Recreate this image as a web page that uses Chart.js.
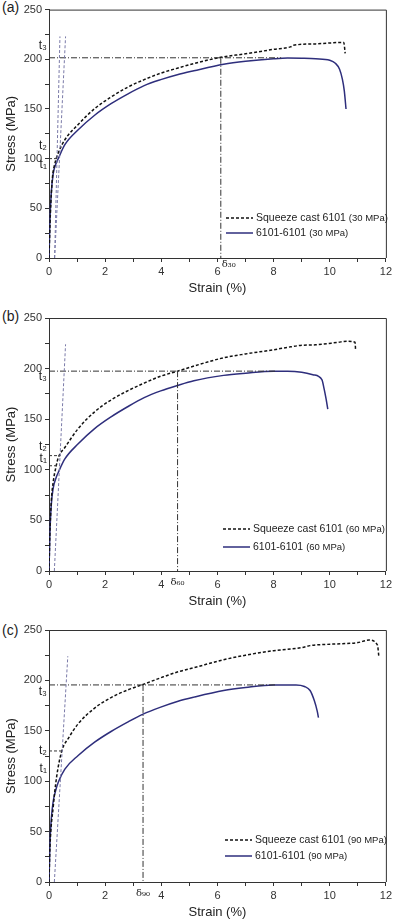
<!DOCTYPE html>
<html>
<head>
<meta charset="utf-8">
<script src="https://cdn.jsdelivr.net/npm/chart.js@4.4.1/dist/chart.umd.min.js"></script>
<style>
  body { margin: 0; background: #fff; width: 395px; height: 922px; overflow: hidden; position: relative; }
  .panel { position: absolute; left: 0; width: 395px; }
  .tag { position: absolute; left: 2px; font: 14px "Liberation Sans", Arial, sans-serif; color: #222; }
</style>
</head>
<body>
<div class="tag" style="top:-1px">(a)</div>
<div class="tag" style="top:308px">(b)</div>
<div class="tag" style="top:622px">(c)</div>
<div class="panel" style="top:0"><canvas id="chartA" width="395" height="305"></canvas></div>
<div class="panel" style="top:305px"><canvas id="chartB" width="395" height="310"></canvas></div>
<div class="panel" style="top:615px"><canvas id="chartC" width="395" height="307"></canvas></div>
<script>
// ---- (a) 30 MPa ----
var aCastStrain = [0, 0.05, 0.12, 0.2, 0.33, 0.565, 1.04, 1.625, 2.21, 2.8, 3.39, 3.98, 4.57, 5.16, 6.12, 7, 8, 8.6, 8.7, 9.5, 10.5, 10.55];
var aCastStress = [0, 45, 80, 94, 105.6, 119, 134.4, 150.3, 162, 171.9, 179.5, 186, 191, 195.7, 202, 205.5, 210, 212.5, 214, 215.5, 217, 206];
var aJoinStrain = [0, 0.03, 0.08, 0.15, 0.25, 0.33, 0.565, 1.04, 1.625, 2.21, 2.8, 3.39, 3.98, 4.57, 5.16, 6.22, 7, 8, 8.5, 9, 9.5, 10, 10.2, 10.35, 10.45, 10.52, 10.58];
var aJoinStress = [0, 35, 65, 85, 95, 100, 114, 129, 143.7, 155.3, 165, 173.5, 179.5, 184.4, 188.4, 195, 198, 200.5, 201.2, 201, 200.5, 199, 196, 190, 180, 168, 150];
var aYield = [[0, 201.5], [8.27, 201.5]];
var aDrop = [[6.12, 201.5], [6.12, 0]];
var aOffsets = [[[0.2, 0], [0.39, 223]], [[0.2, 0], [0.59, 223]]];
var aTLines = [[[0, 100], [0.3, 100]]];
var aTLabels = [["t₃", 214], ["t₂", 113], ["t₁", 94]];
var aDelta = ["δ₃₀", 6.12];
var aLegend = ["Squeeze cast 6101 (30 MPa)", "6101-6101 (30 MPa)"];

// ---- (b) 60 MPa ----
var bCastStrain = [0, 0.03, 0.08, 0.15, 0.25, 0.33, 0.565, 1.04, 1.625, 2.21, 2.8, 3.39, 3.98, 4.58, 5.34, 6.22, 7, 8, 8.5, 9, 9.5, 10.3, 10.6, 10.9, 10.92];
var bCastStress = [0, 35, 68, 88, 103, 112, 122, 140.7, 157.3, 169, 178, 185.7, 192.5, 197.5, 204, 210.7, 214.5, 218.6, 221, 223, 223.5, 226, 227, 226, 219];
var bJoinStrain = [0, 0.03, 0.08, 0.15, 0.25, 0.33, 0.565, 1.04, 1.625, 2.21, 2.8, 3.39, 3.98, 4.57, 5.16, 6.22, 7, 8, 8.5, 9, 9.4, 9.72, 9.8, 9.87, 9.93];
var bJoinStress = [0, 35, 65, 82, 92, 97.3, 110.7, 125.7, 140.7, 152.3, 162.3, 171.3, 178, 183.3, 188, 193.3, 195.5, 197.5, 197.5, 196.5, 194, 189, 180, 170, 160];
var bYield = [[0, 197.5], [8.05, 197.5]];
var bDrop = [[4.58, 197.5], [4.58, 0]];
var bOffsets = [[[0.19, 0], [0.59, 224]]];
var bTLines = [[[0, 114], [0.42, 114]], [[0, 104], [0.38, 104]]];
var bTLabels = [["t₃", 192], ["t₂", 123], ["t₁", 110.5]];
var bDelta = ["δ₆₀", 4.58];
var bLegend = ["Squeeze cast 6101 (60 MPa)", "6101-6101 (60 MPa)"];

// ---- (c) 90 MPa ----
var cCastStrain = [0, 0.035, 0.15, 0.27, 0.45, 0.7, 1.04, 1.625, 2.21, 2.8, 3.35, 3.98, 4.57, 5.16, 6.22, 7, 8, 9, 9.3, 10.1, 11, 11.4, 11.7, 11.75];
var cCastStress = [0, 35, 74.5, 104, 129.5, 143, 157, 172.5, 183, 190.5, 196, 202.6, 208.3, 212.6, 220.5, 225, 229.5, 232.5, 234.5, 236, 237.5, 240, 235, 223.5];
var cJoinStrain = [0, 0.03, 0.08, 0.15, 0.25, 0.33, 0.565, 1.04, 1.625, 2.21, 2.8, 3.35, 3.98, 4.57, 5.16, 6.22, 7, 8, 8.8, 9.1, 9.3, 9.45, 9.55, 9.6];
var cJoinStress = [0, 35, 62, 80, 92, 99, 112, 125.5, 138.7, 149.3, 158.6, 166.5, 173.5, 179.1, 183.4, 190, 193, 195.5, 195.5, 194, 190, 180, 170, 163];
var cYield = [[0, 195.5], [8.05, 195.5]];
var cDrop = [[3.35, 195.5], [3.35, 0]];
var cOffsets = [[[0.19, 0], [0.67, 224]]];
var cTLines = [[[0, 130], [0.45, 130]]];
var cTLabels = [["t₃", 189], ["t₂", 130], ["t₁", 112]];
var cDelta = ["δ₉₀", 3.35];
var cLegend = ["Squeeze cast 6101 (90 MPa)", "6101-6101 (90 MPa)"];

var strainLabels = [0, 2, 4, 6, 8, 10, 12];
var stressLabels = [0, 50, 100, 150, 200, 250];

Chart.defaults.font.family = '"Liberation Sans", Arial, sans-serif';

function pts(xs, ys) {
  return xs.map(function (x, i) { return {x: x, y: ys[i]}; });
}
function seg(p) {
  return p.map(function (q) { return {x: q[0], y: q[1]}; });
}
function refLine(p, dash, color) {
  return {data: seg(p), borderColor: color, borderWidth: 1, borderDash: dash,
          pointRadius: 0, showLine: true, tension: 0};
}

// frame, legend and text marks
var decor = {
  id: 'decor',
  afterDraw: function (chart) {
    var ctx = chart.ctx, a = chart.chartArea, o = chart.options.plugins.decor;
    var xs = chart.scales.x, ys = chart.scales.y;
    ctx.save();
    ctx.strokeStyle = '#333';
    ctx.lineWidth = 1;
    ctx.beginPath();
    ctx.moveTo(a.left, a.top + 0.5);
    ctx.lineTo(a.right + 0.5, a.top + 0.5);
    ctx.lineTo(a.right + 0.5, a.bottom);
    ctx.stroke();

    // legend, the bracket part a bit smaller
    ctx.fillStyle = '#222';
    ctx.textBaseline = 'middle';
    chart.data.datasets.forEach(function (d) {
      if (d.legendRow === undefined) return;
      var y = a.bottom + o.legendY[d.legendRow];
      var x = a.left + o.legendX;
      ctx.strokeStyle = d.borderColor;
      ctx.lineWidth = d.borderWidth;
      ctx.setLineDash(d.borderDash || []);
      ctx.beginPath();
      ctx.moveTo(x, y);
      ctx.lineTo(x + 27, y);
      ctx.stroke();
      ctx.setLineDash([]);
      var cut = d.label.indexOf(' (');
      var head = d.label.slice(0, cut + 1), tail = d.label.slice(cut + 1);
      ctx.font = '10.5px "Liberation Sans", Arial, sans-serif';
      ctx.fillText(head, x + 30, y);
      var w = ctx.measureText(head).width;
      ctx.font = '9.5px "Liberation Sans", Arial, sans-serif';
      ctx.fillText(tail, x + 30 + w, y + 0.5);
    });

    // t labels
    ctx.font = '12px "Liberation Sans", Arial, sans-serif';
    ctx.fillStyle = '#222';
    ctx.textAlign = 'right';
    o.tLabels.forEach(function (t) {
      ctx.fillText(t[0], a.left - 2, ys.getPixelForValue(t[1]));
    });

    // delta label
    ctx.font = '10px "DejaVu Serif", serif';
    ctx.textAlign = o.deltaAlign;
    ctx.textBaseline = 'top';
    var dx = xs.getPixelForValue(o.delta[1]) + (o.deltaAlign === 'left' ? 1 : 0);
    ctx.fillText(o.delta[0], dx, a.bottom + o.deltaDy);
    ctx.restore();
  }
};

function makeChart(id, cast, join, yieldL, drop, offsets, tLines, legend, extra, pad) {
  var sets = [];
  offsets.forEach(function (p) { sets.push(refLine(p, [3, 2], '#7a7aa8')); });
  tLines.forEach(function (p) { sets.push(refLine(p, [3, 2], '#333')); });
  sets.push(refLine(yieldL, [6, 2, 1, 2], '#333'));
  sets.push(refLine(drop, [6, 2, 1, 2], '#333'));
  sets.push({label: legend[0], legendRow: 0, data: cast, borderColor: '#111', borderWidth: 1.5,
             borderDash: [3, 2], pointRadius: 0, showLine: true, cubicInterpolationMode: 'monotone'});
  sets.push({label: legend[1], legendRow: 1, data: join, borderColor: '#2e2e7c', borderWidth: 1.5,
             pointRadius: 0, showLine: true, cubicInterpolationMode: 'monotone'});

  return new Chart(id, {
    type: 'scatter',
    data: {datasets: sets},
    options: {
      responsive: false,
      animation: false,
      layout: {autoPadding: false, padding: {top: pad[0], right: 7, bottom: pad[1], left: 0}},
      plugins: {legend: {display: false}, tooltip: {enabled: false}, decor: extra},
      scales: {
        x: {
          type: 'linear', min: 0, max: 12,
          afterFit: function (s) { s.height = 40; },
          border: {color: '#333', width: 1},
          grid: {drawOnChartArea: false, tickLength: 4, color: '#333'},
          ticks: {stepSize: 1, autoSkip: false, maxRotation: 0, padding: 3, color: '#333', font: {size: 11},
                  callback: function (v) { return strainLabels.indexOf(v) >= 0 ? v : ''; }},
          title: {display: true, text: 'Strain (%)', color: '#222', font: {size: 13}, padding: {top: 0, bottom: 2}}
        },
        y: {
          min: 0, max: 250,
          afterFit: function (s) { s.width = 49; },
          border: {color: '#333', width: 1},
          grid: {drawOnChartArea: false, tickLength: 4, color: '#333'},
          ticks: {stepSize: 25, autoSkip: false, padding: 3, color: '#333', font: {size: 11},
                  callback: function (v) { return stressLabels.indexOf(v) >= 0 ? v : ''; }},
          title: {display: true, text: 'Stress (MPa)', color: '#222', font: {size: 13}, padding: {top: 4, bottom: 0}}
        }
      }
    },
    plugins: [decor]
  });
}

makeChart('chartA', pts(aCastStrain, aCastStress), pts(aJoinStrain, aJoinStress), aYield, aDrop, aOffsets, aTLines, aLegend,
  {legendX: 177, legendY: [-40, -25], tLabels: aTLabels, delta: aDelta, deltaAlign: 'left', deltaDy: 1}, [6, 7]);
makeChart('chartB', pts(bCastStrain, bCastStress), pts(bJoinStrain, bJoinStress), bYield, bDrop, bOffsets, bTLines, bLegend,
  {legendX: 174, legendY: [-42, -24], tLabels: bTLabels, delta: bDelta, deltaAlign: 'center', deltaDy: 6}, [13, 4]);
makeChart('chartC', pts(cCastStrain, cCastStress), pts(cJoinStrain, cJoinStress), cYield, cDrop, cOffsets, cTLines, cLegend,
  {legendX: 176, legendY: [-42, -26], tLabels: cTLabels, delta: cDelta, deltaAlign: 'center', deltaDy: 6}, [15, 0]);
</script>
</body>
</html>
